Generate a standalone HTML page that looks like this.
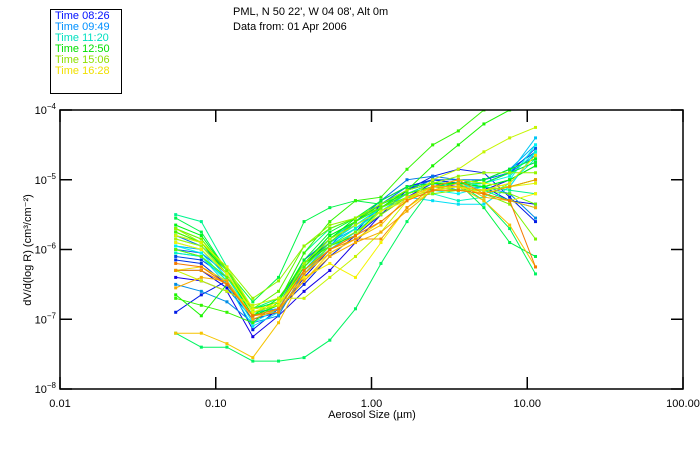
<!DOCTYPE html>
<html><head><meta charset="utf-8"><style>
body{margin:0;background:#fff;}
svg{display:block;font-family:"Liberation Sans",sans-serif;}
</style></head><body>
<svg id="chart" width="700" height="450" viewBox="0 0 700 450">
<rect x="0" y="0" width="700" height="450" fill="#fff"/>
<g>
<rect x="50.5" y="9.5" width="71" height="84" fill="none" stroke="#000"/>
<text x="55" y="19" font-size="11" fill="#0010ff">Time 08:26</text>
<text x="55" y="30" font-size="11" fill="#0090ff">Time 09:49</text>
<text x="55" y="41" font-size="11" fill="#00e0c0">Time 11:20</text>
<text x="55" y="52" font-size="11" fill="#00e000">Time 12:50</text>
<text x="55" y="63" font-size="11" fill="#90e000">Time 15:06</text>
<text x="55" y="74" font-size="11" fill="#f0e000">Time 16:28</text>
</g>
<text x="233" y="15" font-size="11">PML, N 50 22', W 04 08', Alt 0m</text>
<text x="233" y="30" font-size="11">Data from: 01 Apr 2006</text>
<g id="series"></g>
<g id="axes"></g>
<text x="372" y="418" font-size="11" text-anchor="middle">Aerosol Size (µm)</text>
<text transform="translate(31,250) rotate(-90)" font-size="11" text-anchor="middle">dV/d(log R) (cm³/cm⁻²)</text>
</svg>
<script>
const sizes = [0.0553,0.0808,0.118,0.173,0.253,0.369,0.540,0.789,1.15,1.69,2.47,3.61,5.27,7.71,11.3];
const xTickVals = [0.01,0.1,1,10,100];
const xTickLabels = ["0.01","0.10","1.00","10.00","100.00"];
const yTickExps = [-4,-5,-6,-7,-8];
const times = ["08:26","09:49","11:20","12:50","15:06","16:28"];
const s1=[-6.4,-6.45,-6.6,-7.25,-6.95,-6.6,-6.3,-5.9,-5.5,-5.25,-5.05,-5.1,-5.15,-5.0,-4.8];
const s2=[-6.3,-6.3,-6.55,-7.0,-6.9,-6.4,-6.0,-5.75,-5.35,-5.1,-5.0,-5.05,-5.1,-5.3,-5.35];
const s3=[-6.9,-6.65,-6.45,-7.15,-6.85,-6.5,-6.1,-5.8,-5.5,-5.15,-4.95,-4.85,-4.9,-5.25,-5.6];
const s4=[-6.15,-6.2,-6.5,-6.95,-6.8,-6.2,-5.9,-5.6,-5.3,-5.1,-5.0,-5.05,-5.0,-4.9,-4.75];
const s5=[-6.1,-6.15,-6.4,-6.85,-6.8,-6.15,-5.85,-5.6,-5.35,-5.15,-5.05,-5.05,-5.0,-4.85,-4.6];
const s6=[-6.0,-6.05,-6.35,-6.9,-6.85,-6.25,-5.9,-5.65,-5.4,-5.15,-5.0,-5.0,-5.05,-4.9,-4.55];
const s7=[-5.8,-5.95,-6.3,-6.85,-6.8,-6.2,-5.85,-5.6,-5.3,-5.0,-4.95,-5.0,-5.0,-4.9,-4.65];
const s8=[-6.5,-6.6,-6.75,-7.05,-6.95,-6.3,-5.95,-5.6,-5.35,-5.1,-5.05,-5.15,-5.1,-5.2,-5.55];
const s9=[-5.95,-6.0,-6.35,-6.9,-6.85,-6.3,-5.9,-5.7,-5.4,-5.2,-5.05,-5.05,-5.0,-4.85,-4.5];
const s10=[-6.05,-6.1,-6.4,-6.95,-6.85,-6.3,-5.95,-5.7,-5.45,-5.2,-5.1,-5.1,-5.05,-4.9,-4.4];
const s11=[-6.0,-6.1,-6.5,-7.1,-6.9,-6.35,-6.0,-5.75,-5.45,-5.25,-5.3,-5.35,-5.35,-5.1,-4.6];
const s12=[-5.95,-6.05,-6.45,-7.05,-6.85,-6.3,-5.95,-5.7,-5.45,-5.25,-5.15,-5.2,-5.1,-5.0,-4.5];
const s13=[-5.9,-6.0,-6.4,-6.95,-6.8,-6.25,-5.9,-5.65,-5.4,-5.2,-5.1,-5.1,-5.05,-4.95,-4.6];
const s14=[-6.05,-6.1,-6.45,-6.95,-6.9,-6.35,-5.95,-5.7,-5.45,-5.25,-5.2,-5.3,-5.25,-5.05,-4.7];
const s15=[-5.85,-5.95,-6.35,-6.9,-6.8,-6.2,-5.85,-5.6,-5.4,-5.2,-5.1,-5.1,-5.1,-5.0,-4.8];
const s16=[-5.5,-5.6,-6.25,-6.85,-6.75,-6.05,-5.7,-5.55,-5.35,-5.2,-5.05,-5.05,-5.1,-5.15,-5.2];
const s17=[-5.8,-5.9,-6.3,-6.85,-6.7,-6.2,-5.8,-5.6,-5.4,-5.2,-5.1,-5.1,-5.15,-5.3,-5.4];
const s18=[-7.2,-7.4,-7.4,-7.6,-7.6,-7.55,-7.3,-6.85,-6.2,-5.6,-5.1,-5.05,-5.3,-5.7,-6.35];
const s19=[-5.55,-5.75,-6.3,-6.75,-6.4,-5.6,-5.4,-5.3,-5.35,-5.2,-5.1,-5.05,-5.4,-5.9,-6.1];
const s20=[-5.7,-5.85,-6.3,-6.85,-6.75,-6.15,-5.75,-5.55,-5.3,-5.1,-5.05,-5.05,-5.05,-4.9,-4.75];
const s21=[-5.65,-5.8,-6.3,-6.9,-6.8,-6.2,-5.8,-5.6,-5.35,-5.15,-5.05,-5.05,-5.0,-4.85,-4.7];
const s22=[-5.75,-5.9,-6.35,-6.95,-6.8,-6.25,-5.85,-5.55,-5.35,-5.15,-5.05,-5.05,-5.1,-5.0,-4.8];
const s23=[-6.65,-6.95,-6.5,-6.95,-6.7,-6.2,-5.95,-5.8,-5.4,-5.15,-4.8,-4.5,-4.2,-4.0,-3.9];
const s24=[-6.7,-6.8,-6.9,-7.05,-6.75,-6.05,-5.6,-5.3,-5.25,-4.85,-4.5,-4.3,-4.0,-3.9,-3.8];
const s25=[-5.75,-5.9,-6.3,-6.9,-6.8,-6.25,-5.9,-5.6,-5.4,-5.2,-5.1,-5.15,-5.15,-5.1,-5.0];
const s26=[-6.0,-6.1,-6.4,-6.85,-6.6,-5.95,-5.7,-5.55,-5.4,-5.25,-5.1,-5.1,-5.15,-5.2,-5.35];
const s27=[-5.7,-5.85,-6.3,-6.85,-6.8,-6.3,-5.95,-5.75,-5.5,-5.25,-5.2,-5.15,-5.2,-5.35,-5.85];
const s28=[-5.7,-5.9,-6.25,-6.7,-6.45,-5.95,-5.65,-5.55,-5.35,-5.15,-5.05,-4.95,-4.9,-4.9,-4.9];
const s29=[-5.85,-5.95,-6.35,-6.9,-6.8,-6.2,-5.85,-5.65,-5.45,-5.25,-5.15,-5.15,-5.15,-5.1,-5.0];
const s30=[-6.3,-6.45,-6.6,-6.8,-6.7,-6.7,-6.4,-6.1,-5.75,-5.3,-5.0,-4.85,-4.6,-4.4,-4.25];
const s31=[-5.8,-5.9,-6.25,-6.85,-6.8,-6.3,-6.0,-5.8,-5.45,-5.3,-5.1,-5.0,-5.05,-5.1,-5.05];
const s32=[-5.9,-6.0,-6.35,-6.9,-6.75,-6.4,-6.2,-6.4,-5.9,-5.4,-5.15,-5.1,-5.2,-5.3,-5.2];
const s33=[-6.3,-6.25,-6.45,-6.95,-6.85,-6.45,-6.05,-5.85,-5.6,-5.3,-5.1,-5.1,-5.15,-5.05,-4.65];
const s34=[-7.2,-7.2,-7.35,-7.55,-7.05,-6.35,-6.05,-5.85,-5.65,-5.25,-5.1,-5.1,-5.3,-5.65,-6.25];
const s35=[-6.55,-6.4,-6.45,-7.0,-6.85,-6.45,-6.1,-5.9,-5.75,-5.45,-5.15,-5.05,-5.25,-5.3,-5.4];
const s36=[-6.3,-6.3,-6.5,-6.95,-6.9,-6.35,-6.0,-5.85,-5.85,-5.4,-5.1,-5.0,-5.2,-5.1,-5.0];
const s37=[-6.2,-6.25,-6.5,-6.95,-6.85,-6.3,-6.0,-5.8,-5.6,-5.3,-5.15,-5.15,-5.2,-5.3,-6.25];
const seriesLog=[s1,s2,s3,s4,s5,s6,s7,s8,s9,s10,s11,s12,s13,s14,s15,s16,s17,s18,s19,s20,s21,s22,s23,s24,s25,s26,s27,s28,s29,s30,s31,s32,s33,s34,s35,s36,s37];

const NS="http://www.w3.org/2000/svg";
const L=60,R=683,T=110,B=389;
const xMinE=-2,xMaxE=2,yMinE=-8,yMaxE=-4;
function xPos(v){return L+(Math.log10(v)-xMinE)/(xMaxE-xMinE)*(R-L);}
function yPos(e){return B-(e-yMinE)/(yMaxE-yMinE)*(B-T);}
function mk(t,a){const e=document.createElementNS(NS,t);for(const k in a)e.setAttribute(k,a[k]);return e;}

const sg=document.getElementById('series');
const clip=mk('clipPath',{id:'pc'});clip.appendChild(mk('rect',{x:L,y:T,width:R-L,height:B-T}));
document.getElementById('chart').appendChild(clip);
sg.setAttribute('clip-path','url(#pc)');
seriesLog.forEach((s,i)=>{
  const hue=245-(i/(seriesLog.length-1))*215;
  const col=`hsl(${hue},100%,${hue>200?45:48}%)`;
  const g=mk('g',{});
  
  
  const pts=s.map((e,j)=>xPos(sizes[j]).toFixed(1)+','+yPos(e).toFixed(1)).join(' ');
  g.appendChild(mk('polyline',{points:pts,fill:'none',stroke:col,'stroke-width':1}));
  s.forEach((e,j)=>{
    const r=mk('rect',{x:xPos(sizes[j])-1.5,y:yPos(e)-1.5,width:3,height:3,fill:col});
    
    
    g.appendChild(r);
  });
  sg.appendChild(g);
});

const ax=document.getElementById('axes');
const frame=mk('rect',{x:L,y:T,width:R-L,height:B-T,fill:'none',stroke:'#000','stroke-width':1.5});


ax.appendChild(frame);
xTickVals.forEach((v,i)=>{
  const x=xPos(v);
  ax.appendChild(mk('line',{x1:x,y1:B,x2:x,y2:B-12,stroke:'#000','stroke-width':1.5}));
  ax.appendChild(mk('line',{x1:x,y1:T,x2:x,y2:T+12,stroke:'#000','stroke-width':1.5}));
  const t=mk('text',{x:x,y:B+18,'font-size':11,'text-anchor':'middle'});
  
  
  t.textContent=xTickLabels[i];ax.appendChild(t);
});
yTickExps.forEach(e=>{
  const y=yPos(e);
  ax.appendChild(mk('line',{x1:L,y1:y,x2:L+12,y2:y,stroke:'#000','stroke-width':1.5}));
  ax.appendChild(mk('line',{x1:R,y1:y,x2:R-12,y2:y,stroke:'#000','stroke-width':1.5}));
  const t=mk('text',{x:L-4,y:y+4,'font-size':11,'text-anchor':'end'});
  
  
  t.textContent='10';
  const sp=mk('tspan',{dy:-5,'font-size':8});sp.textContent='−'+(-e);
  t.appendChild(sp);ax.appendChild(t);
});
</script>
</body></html>
